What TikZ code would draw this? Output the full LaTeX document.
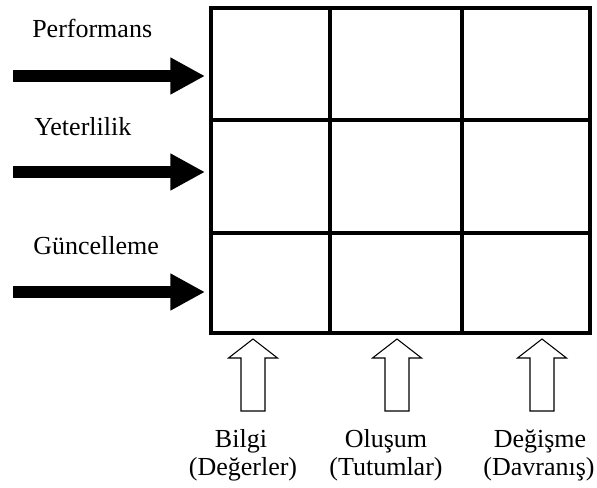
\documentclass[tikz,border=0pt]{standalone}
\usepackage{fontspec}
\setmainfont{Liberation Serif}
\usetikzlibrary{arrows.meta}
\usetikzlibrary{positioning}

\begin{document}
\begin{tikzpicture}[x=0.75pt, y=-0.75pt, line join=miter,
    gridline/.style={line width=2.4pt},
    blockarrow/.style={line width=9pt, -{Triangle[length=26pt, width=26pt]}},
    hollowarrow/.style={draw, line width=0.8pt, fill=white},
    lbl/.style={font=\fontsize{19.5}{23}\selectfont, inner sep=0pt}]
  \useasboundingbox (0,0) rectangle (597,487);
  %--- Grid
    \coordinate (nw) at (211,8);
    \coordinate (se) at (590,333);
    \draw[gridline] (nw) rectangle (se);
    \draw[gridline] (330,8) -- (330,333);
    \draw[gridline] (462,8) -- (462,333);
    \draw[gridline] (211,120) -- (590,120);
    \draw[gridline] (211,233) -- (590,233);
  %--- Performans
    \node[lbl, anchor=base west] (perf) at (32,37.5) {Performans};
    \coordinate (perfS) at (13,76);
    \coordinate (perfT) at (205,76);
    \draw[blockarrow] (perfS) -- (perfT);
  %--- Yeterlilik
    \node[lbl, anchor=base west] (yet) at (34,135) {Yeterlilik};
    \coordinate (yetS) at (13,172);
    \coordinate (yetT) at (205,172);
    \draw[blockarrow] (yetS) -- (yetT);
  %--- Guncelleme
    \node[lbl, anchor=base west] (gunc) at (33,254) {Güncelleme};
    \coordinate (guncS) at (13,292);
    \coordinate (guncT) at (205,292);
    \draw[blockarrow] (guncS) -- (guncT);
  %--- Bilgi
    \coordinate (bilgiT) at (253,339);
    \draw[hollowarrow] (bilgiT) -- ++(24.5,19) -- ++(-12.5,0) -- ++(0,53) -- ++(-24,0)
      -- ++(0,-53) -- ++(-12.5,0) -- cycle;
    \node[lbl, anchor=base] (bilgi) at (241,447) {Bilgi};
    \node[lbl, anchor=base] (deger) at (243,475) {(Değerler)};
  %--- Olusum
    \coordinate (olusT) at (397,339);
    \draw[hollowarrow] (olusT) -- ++(24.5,19) -- ++(-12.5,0) -- ++(0,53) -- ++(-24,0)
      -- ++(0,-53) -- ++(-12.5,0) -- cycle;
    \node[lbl, anchor=base] (olus) at (386,447) {Oluşum};
    \node[lbl, anchor=base] (tutum) at (386,475) {(Tutumlar)};
  %--- Degisme
    \coordinate (degT) at (542,339);
    \draw[hollowarrow] (degT) -- ++(24.5,19) -- ++(-12.5,0) -- ++(0,53) -- ++(-24,0)
      -- ++(0,-53) -- ++(-12.5,0) -- cycle;
    \node[lbl, anchor=base] (degis) at (540,447) {Değişme};
    \node[lbl, anchor=base] (davr) at (539,475) {(Davranış)};
\end{tikzpicture}
\end{document}
